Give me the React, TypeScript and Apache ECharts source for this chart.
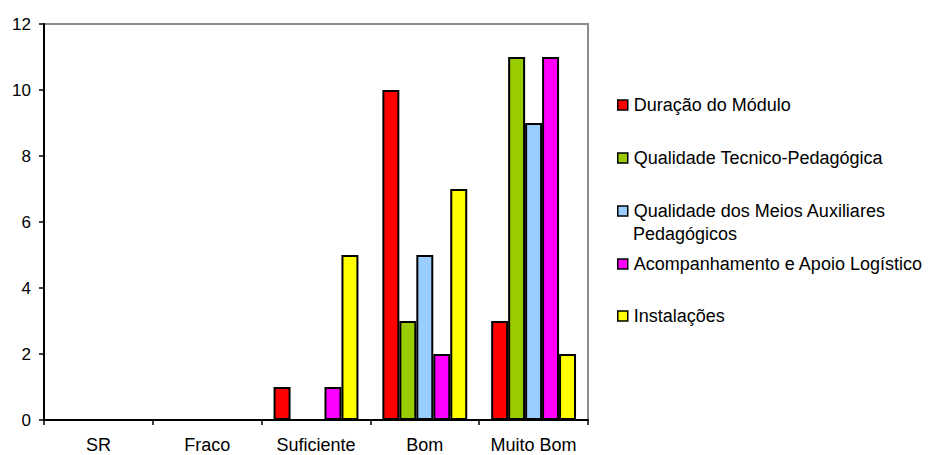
import React, { useEffect, useRef } from "react";
import * as echarts from "echarts";

const categories = ["SR", "Fraco", "Suficiente", "Bom", "Muito Bom"];
const seriesNames = [
  "Duração do Módulo",
  "Qualidade Tecnico-Pedagógica",
  "Qualidade dos Meios Auxiliares Pedagógicos",
  "Acompanhamento e Apoio Logístico",
  "Instalações",
];
const duracao = [0, 0, 1, 10, 3];
const qualidadeTecnico = [0, 0, 0, 3, 11];
const qualidadeMeios = [0, 0, 0, 5, 9];
const acompanhamento = [0, 0, 1, 2, 11];
const instalacoes = [0, 0, 5, 7, 2];
const colors = ["#FF0000", "#99CC00", "#99CCFF", "#FF00FF", "#FFFF00"];
const yTicks = { min: 0, max: 12, interval: 2 };

const FONT = "'Liberation Sans', Arial, sans-serif";

export default function App() {
  const ref = useRef<HTMLDivElement>(null);
  useEffect(() => {
    document.body.style.margin = "0";
    if (!ref.current) return;
    const chart = echarts.init(ref.current, undefined, { renderer: "svg" });
    const allData = [duracao, qualidadeTecnico, qualidadeMeios, acompanhamento, instalacoes];
    const legendCenters = [105, 158, 211, 264, 316];
    const legends = seriesNames.map((name, i) => ({
      data: [name],
      orient: "vertical",
      left: 617,
      top: legendCenters[i] - 10,
      padding: 0,
      itemWidth: 10,
      itemHeight: 10,
      itemGap: 0,
      icon: "rect",
      selectedMode: false,
      itemStyle: { borderColor: "#000", borderWidth: 1.5 },
      textStyle: { fontFamily: FONT, fontSize: 18, color: "#000", lineHeight: 20, padding: [0, 0, 0, 1] },
      formatter: (n: string) =>
        n === "Qualidade dos Meios Auxiliares Pedagógicos" ? "Qualidade dos Meios Auxiliares" : n,
    }));
    chart.setOption({
      animation: false,
      backgroundColor: "#fff",
      grid: {
        left: 44,
        right: 342,
        top: 24,
        bottom: 35,
        show: true,
        borderColor: "#8c8c8c",
        borderWidth: 2,
        backgroundColor: "transparent",
      },
      legend: legends,
      graphic: [
        {
          type: "text",
          left: 633,
          top: 225,
          style: { text: "Pedagógicos", font: `18px ${FONT}`, fill: "#000" },
        },
      ],
      xAxis: {
        type: "category",
        data: categories,
        boundaryGap: true,
        axisLine: { show: true, lineStyle: { color: "#000", width: 2 } },
        axisTick: { show: true, length: 5, lineStyle: { color: "#000", width: 1.5 } },
        axisLabel: { fontFamily: FONT, fontSize: 18, color: "#000", margin: 16, interval: 0 },
        splitLine: { show: false },
      },
      yAxis: {
        type: "value",
        min: yTicks.min,
        max: yTicks.max,
        interval: yTicks.interval,
        axisLine: { show: true, lineStyle: { color: "#000", width: 2 } },
        axisTick: { show: true, length: 5, lineStyle: { color: "#000", width: 1.5 } },
        axisLabel: { fontFamily: FONT, fontSize: 17, color: "#000", margin: 13 },
        splitLine: { show: false },
      },
      series: seriesNames.map((name, i) => ({
        name,
        type: "bar",
        data: allData[i],
        barGap: "0%",
        barCategoryGap: "22%",
        itemStyle: { color: colors[i], borderColor: "#000", borderWidth: 2 },
      })),
    });
    return () => chart.dispose();
  }, []);
  return <div ref={ref} style={{ width: 930, height: 455 }} />;
}
